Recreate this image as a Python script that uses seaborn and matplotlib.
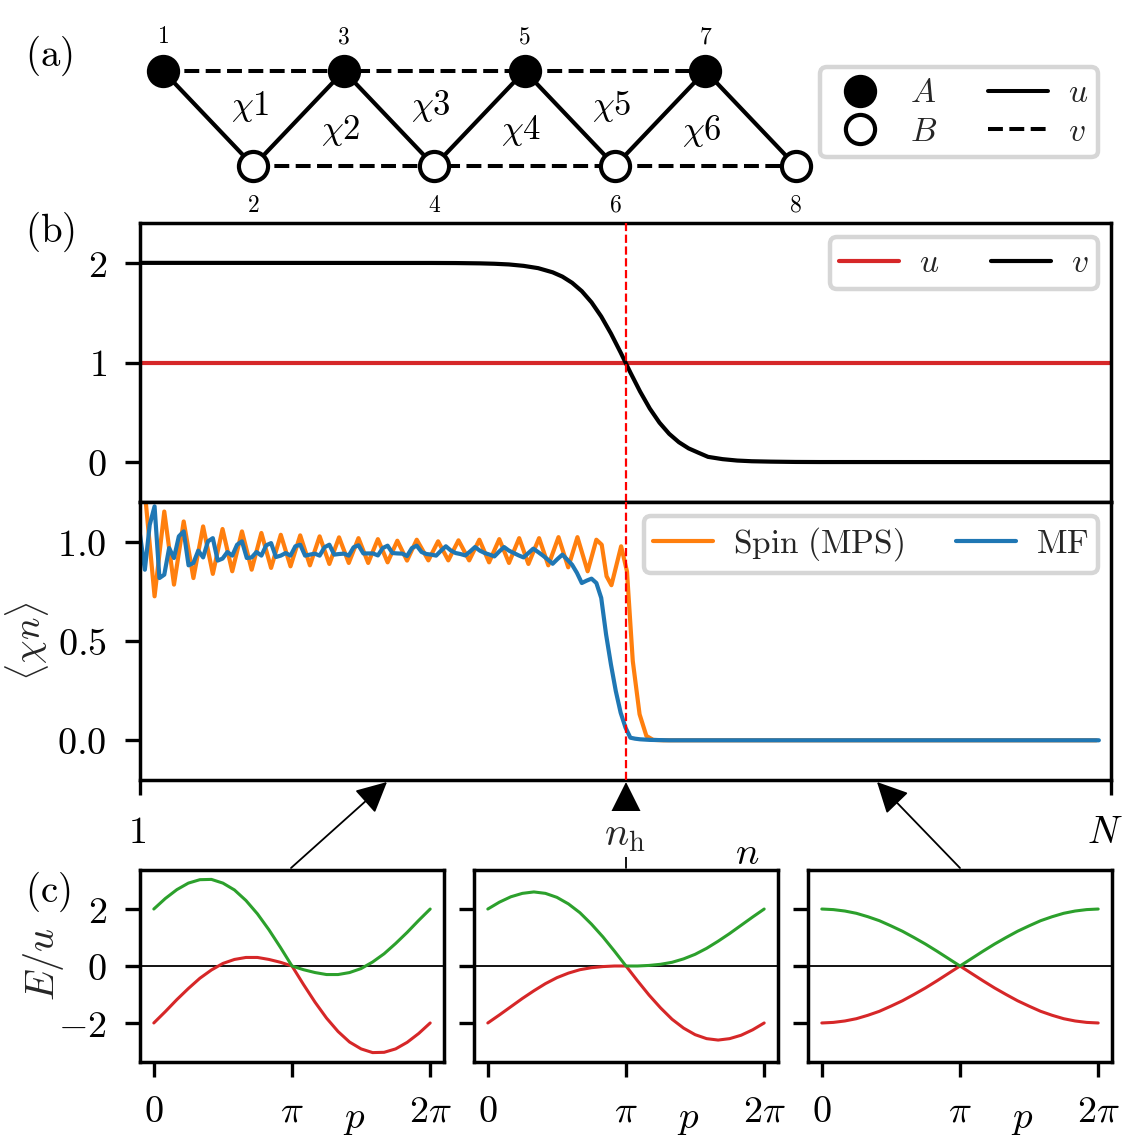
import numpy as np
import matplotlib
matplotlib.use("Agg")
import matplotlib.pyplot as plt
from matplotlib.lines import Line2D
from matplotlib.transforms import ScaledTranslation
import seaborn as sns

W, H = 1123, 1145

# ---- data ----
v_n = [1, 61, 66, 71, 74, 77, 80, 83, 86, 88, 90, 92, 94, 96, 98, 100, 101, 102, 104, 106, 108, 110, 112,
       114, 116, 118, 121, 124, 127, 131, 136, 141, 201]
v_vals = [2.0, 1.999, 1.998, 1.995, 1.991, 1.984, 1.970, 1.947, 1.905, 1.862, 1.800, 1.716, 1.604, 1.462,
          1.291, 1.100, 1.0, 0.900, 0.709, 0.538, 0.396, 0.284, 0.200, 0.138, 0.095, 0.053, 0.030, 0.016,
          0.009, 0.005, 0.002, 0.001, 0.0]
u_n = [1, 201]
u_vals = [1.0, 1.0]

spin_n = [2, 4, 6, 8, 10, 12, 14, 16, 18, 20, 22, 24, 26, 28, 30, 32, 34, 36, 38, 40, 42, 44, 46, 48, 50, 52,
          54, 56, 58, 60.4, 62.4, 64.5, 66.6, 68.8, 70.9, 72.9, 75.0, 77.0, 79.1, 81.0, 83.2, 85.1, 87.2,
          89.2, 91.1, 93.2, 95.0, 96.1, 97.1, 98.1, 100.1, 101.3, 102.5, 103.9, 105.3, 106.7, 108.8, 198]
spin_vals = [1.25, 0.725, 1.152, 0.784, 1.102, 0.817, 1.077, 0.838, 1.064, 0.851, 1.052, 0.859, 1.044, 0.868,
             1.035, 0.876, 1.032, 0.881, 1.027, 0.888, 1.022, 0.893, 1.018, 0.893, 1.013, 0.896, 1.005, 0.905,
             1.010, 0.906, 1.002, 0.906, 1.007, 0.906, 1.010, 0.896, 1.013, 0.893, 1.018, 0.888, 1.018, 0.881,
             1.023, 0.871, 1.023, 0.851, 1.010, 0.985, 0.826, 0.781, 0.977, 0.851, 0.399, 0.131, 0.022, 0.002,
             0.0, 0.0]

mf_n = list(range(1, 105)) + [106, 110, 198.5]
mf_vals = [1.035, 0.859, 1.085, 1.178, 0.817, 0.834, 0.968, 0.918, 1.027, 1.052, 0.881, 0.893, 0.955, 0.921,
           1.002, 1.018, 0.905, 0.915, 0.948, 0.930, 0.985, 1.002, 0.918, 0.921, 0.948, 0.930, 0.982, 0.993,
           0.923, 0.930, 0.943, 0.930, 0.977, 0.985, 0.930, 0.935, 0.940, 0.930, 0.972, 0.985, 0.935, 0.938,
           0.940, 0.930, 0.972, 0.982, 0.941, 0.941, 0.941, 0.931, 0.968, 0.980, 0.943, 0.941, 0.940, 0.928,
           0.968, 0.980, 0.948, 0.938, 0.935, 0.930, 0.955, 0.977, 0.956, 0.943, 0.938, 0.931, 0.951, 0.973,
           0.955, 0.943, 0.935, 0.926, 0.951, 0.973, 0.955, 0.943, 0.931, 0.921, 0.943, 0.965, 0.948, 0.930,
           0.910, 0.889, 0.913, 0.935, 0.910, 0.884, 0.843, 0.792, 0.804, 0.814, 0.792, 0.717, 0.533, 0.382,
           0.248, 0.139, 0.064, 0.013, 0.008, 0.005, 0.002, 0.0, 0.0]

p_k = list(range(25))  # p in units of pi/12
green_a = [2.00, 2.37, 2.68, 2.91, 3.03, 3.04, 2.91, 2.67, 2.30, 1.83, 1.27, 0.65, 0.00, -0.13, -0.23, -0.30,
           -0.30, -0.23, -0.09, 0.14, 0.43, 0.79, 1.18, 1.60, 2.00]
red_a = [-2.00, -1.60, -1.18, -0.79, -0.43, -0.14, 0.09, 0.23, 0.30, 0.30, 0.23, 0.13, 0.00, -0.65, -1.27,
         -1.83, -2.30, -2.67, -2.91, -3.04, -3.03, -2.91, -2.68, -2.37, -2.00]
green_b = [2.00, 2.24, 2.43, 2.55, 2.60, 2.55, 2.41, 2.18, 1.87, 1.47, 1.02, 0.52, 0.00, 0.00, 0.02, 0.06,
           0.13, 0.25, 0.41, 0.62, 0.87, 1.14, 1.43, 1.72, 2.00]
red_b = [-2.00, -1.72, -1.43, -1.14, -0.87, -0.62, -0.41, -0.25, -0.13, -0.06, -0.02, 0.00, 0.00, -0.52, -1.02,
         -1.47, -1.87, -2.18, -2.41, -2.55, -2.60, -2.55, -2.43, -2.24, -2.00]
green_c = [2.00, 1.98, 1.93, 1.85, 1.73, 1.59, 1.41, 1.22, 1.00, 0.77, 0.52, 0.26, 0.00, 0.26, 0.52, 0.77,
           1.00, 1.22, 1.41, 1.59, 1.73, 1.85, 1.93, 1.98, 2.00]
red_c = [-2.00, -1.98, -1.93, -1.85, -1.73, -1.59, -1.41, -1.22, -1.00, -0.77, -0.52, -0.26, 0.00, -0.26, -0.52,
         -0.77, -1.00, -1.22, -1.41, -1.59, -1.73, -1.85, -1.93, -1.98, -2.00]

sites = [1, 2, 3, 4, 5, 6, 7, 8]
sublattice = [1, 0, 1, 0, 1, 0, 1, 0]
chi_labels = [r"$\chi 1$", r"$\chi 2$", r"$\chi 3$", r"$\chi 4$", r"$\chi 5$", r"$\chi 6$"]

sns.set_theme(style="white")
plt.rcParams.update({
    "mathtext.fontset": "cm", "font.family": ["DejaVu Sans"],
    "axes.edgecolor": "black", "axes.linewidth": 2.5,
    "xtick.bottom": True, "ytick.left": True,
    "xtick.color": "black", "ytick.color": "black",
    "xtick.major.size": 11, "ytick.major.size": 11,
    "xtick.major.width": 2.4, "ytick.major.width": 2.4,
    "xtick.major.pad": 12, "ytick.major.pad": 13,
    "xtick.labelsize": 27.5, "ytick.labelsize": 27.5,
})

fig = plt.figure(figsize=(W / 100, H / 100), dpi=100, facecolor="white")


def add_ax(x0, y0, x1, y1):
    return fig.add_axes([x0 / W, 1 - y1 / H, (x1 - x0) / W, (y1 - y0) / H])


def ftext(px, py, s, size=28, **kw):
    kw.setdefault("ha", "center")
    kw.setdefault("va", "center")
    return fig.text(px / W, 1 - py / H, s, fontsize=size, color="black", **kw)


def line(ax, x, y, color, lw, ls="-", label=None, zorder=2):
    sns.lineplot(x=x, y=y, ax=ax, color=color, linewidth=lw, linestyle=ls, estimator=None,
                 errorbar=None, label=label, legend=False, zorder=zorder)


LEG = dict(fontsize=24, framealpha=1, edgecolor="0.84", handlelength=1.8, handletextpad=0.6,
           columnspacing=1.55, borderpad=0.28, borderaxespad=0)

# ---- panel (a) ----
axa = add_ax(100, 10, 830, 215)
axa.set_xlim(0.303, 8.378)
axa.set_ylim(-0.516, 1.642)
axa.axis("off")
axa.patch.set_alpha(0)
line(axa, sites, sublattice, "black", 3.0)
line(axa, sites[0::2], sublattice[0::2], "black", 2.9, "--")
line(axa, sites[1::2], sublattice[1::2], "black", 2.9, "--")
sns.scatterplot(x=sites[0::2], y=sublattice[0::2], ax=axa, s=440, color="black", edgecolor="black",
                linewidth=3, zorder=4, legend=False, clip_on=False)
sns.scatterplot(x=sites[1::2], y=sublattice[1::2], ax=axa, s=440, color="white", edgecolor="black",
                linewidth=3, zorder=4, legend=False, clip_on=False)
for i, s in enumerate(sites):
    px = 163 + 90.4 * i
    ftext(px, 36 if i % 2 == 0 else 205, rf"${s}$", size=17)
for i, lab in enumerate(chi_labels):
    ftext(250 + 90.4 * i, 106 if i % 2 == 0 else 131, lab, size=25)
ftext(49, 56, r"$\mathrm{(a)}$")
ftext(50, 232, r"$\mathrm{(b)}$")
ftext(48, 892, r"$\mathrm{(c)}$")

handles = [
    Line2D([], [], marker="o", ms=21, mfc="black", mec="black", mew=3, ls="none"),
    Line2D([], [], marker="o", ms=21, mfc="white", mec="black", mew=3, ls="none"),
    Line2D([], [], color="black", lw=2.9),
    Line2D([], [], color="black", lw=2.9, ls="--"),
]
lega = fig.legend(handles, [r"$A$", r"$B$", r"$u$", r"$v$"], ncol=2, loc="upper right",
                  bbox_to_anchor=(1098 / W, 1 - 67 / H), labelspacing=0.17, **LEG)
lega.get_frame().set_linewidth(3.2)

# ---- panel (b) upper ----
axb = add_ax(140, 223, 1111, 502)
line(axb, u_n, u_vals, "tab:red", 3.0, label=r"$u$")
line(axb, v_n, v_vals, "black", 3.0, label=r"$v$")
axb.axvline(101, color="red", lw=1.6, ls="--", zorder=3)
axb.set_xlim(1, 201)
axb.set_ylim(-0.4, 2.4)
axb.set_xticks([])
axb.set_yticks([0, 1, 2], [r"$0$", r"$1$", r"$2$"])
axb.set_xlabel("")
legb = axb.legend(ncol=2, loc="upper right", bbox_to_anchor=(958 / 971, 1 - 14 / 279), **LEG)
legb.get_frame().set_linewidth(3.2)

# ---- panel (b) lower ----
axl = add_ax(140, 502, 1111, 780)
line(axl, spin_n, spin_vals, "tab:orange", 3.0, label=r"$\mathrm{Spin\ (MPS)}$")
line(axl, mf_n, mf_vals, "tab:blue", 3.0, label=r"$\mathrm{MF}$")
axl.axvline(101, color="red", lw=1.6, ls="--", zorder=3)
axl.set_xlim(1, 201)
axl.set_ylim(-0.2, 1.2)
axl.set_xticks([1, 201], [r"$1$", r"$N$"])
axl.tick_params(axis="x", pad=14)
for lab, dx in zip(axl.get_xticklabels(), [-3, -6]):
    lab.set_transform(lab.get_transform() + ScaledTranslation(dx / 100, 0, fig.dpi_scale_trans))
axl.set_yticks([0, 0.5, 1.0], [r"$0.0$", r"$0.5$", r"$1.0$"])
axl.set_ylabel(r"$\langle \chi n \rangle$", fontsize=27)
axl.yaxis.set_label_coords(-0.092, 0.5)
legl = axl.legend(ncol=2, loc="upper right", bbox_to_anchor=(958 / 971, 1 - 14 / 278), **LEG)
legl.get_frame().set_linewidth(3.2)

# ---- panel (c) ----
boxes = [(140, 444), (474, 778), (808, 1112)]
series = [(green_a, red_a), (green_b, red_b), (green_c, red_c)]
p_vals = [k * np.pi / 12 for k in p_k]
for i, ((x0, x1), (g, r)) in enumerate(zip(boxes, series)):
    ax = add_ax(x0, 870, x1, 1062)
    ax.axhline(0, color="black", lw=1.3, zorder=1)
    line(ax, p_vals, r, "tab:red", 2.2)
    line(ax, p_vals, g, "tab:green", 2.2)
    ax.set_xlim(-0.05 * 2 * np.pi, 1.05 * 2 * np.pi)
    ax.set_ylim(-3.37, 3.37)
    ax.set_xticks([0, np.pi, 2 * np.pi], [r"$0$", r"$\pi$", r"$2\pi$"])
    ax.set_yticks([-2, 0, 2])
    ax.set_yticklabels([r"$-2$", r"$0$", r"$2$"] if i == 0 else [])
    if i == 0:
        ax.set_ylabel(r"$E/u$", fontsize=29)
        ax.yaxis.set_label_coords(-0.243, 0.51)
    ftext((x0 + x1) / 2 + 62, 1118, r"$p$")

# ---- axis labels and arrows between panels ----
ftext(747, 853, r"$n$")
overlay = fig.add_axes([0, 0, 1, 1], facecolor="none", zorder=10)
overlay.axis("off")
for tail, tip, scale in [((291, 868), (387, 782), 19), ((626, 868), (626, 782), 27), ((960, 868), (877, 782), 19)]:
    overlay.annotate("", xy=(tip[0] / W, 1 - tip[1] / H), xytext=(tail[0] / W, 1 - tail[1] / H),
                     xycoords="axes fraction", textcoords="axes fraction",
                     arrowprops=dict(arrowstyle="-|>,head_length=1.0,head_width=0.5", mutation_scale=scale,
                                     color="black", lw=1.3, shrinkA=0, shrinkB=0))
overlay.text(625 / W, 1 - 834 / H, r"$n_{\mathrm{h}}$", fontsize=29, ha="center", va="center",
             transform=overlay.transAxes, bbox=dict(fc="white", ec="none", pad=2), zorder=20)

fig.savefig("out.png", dpi=100)
